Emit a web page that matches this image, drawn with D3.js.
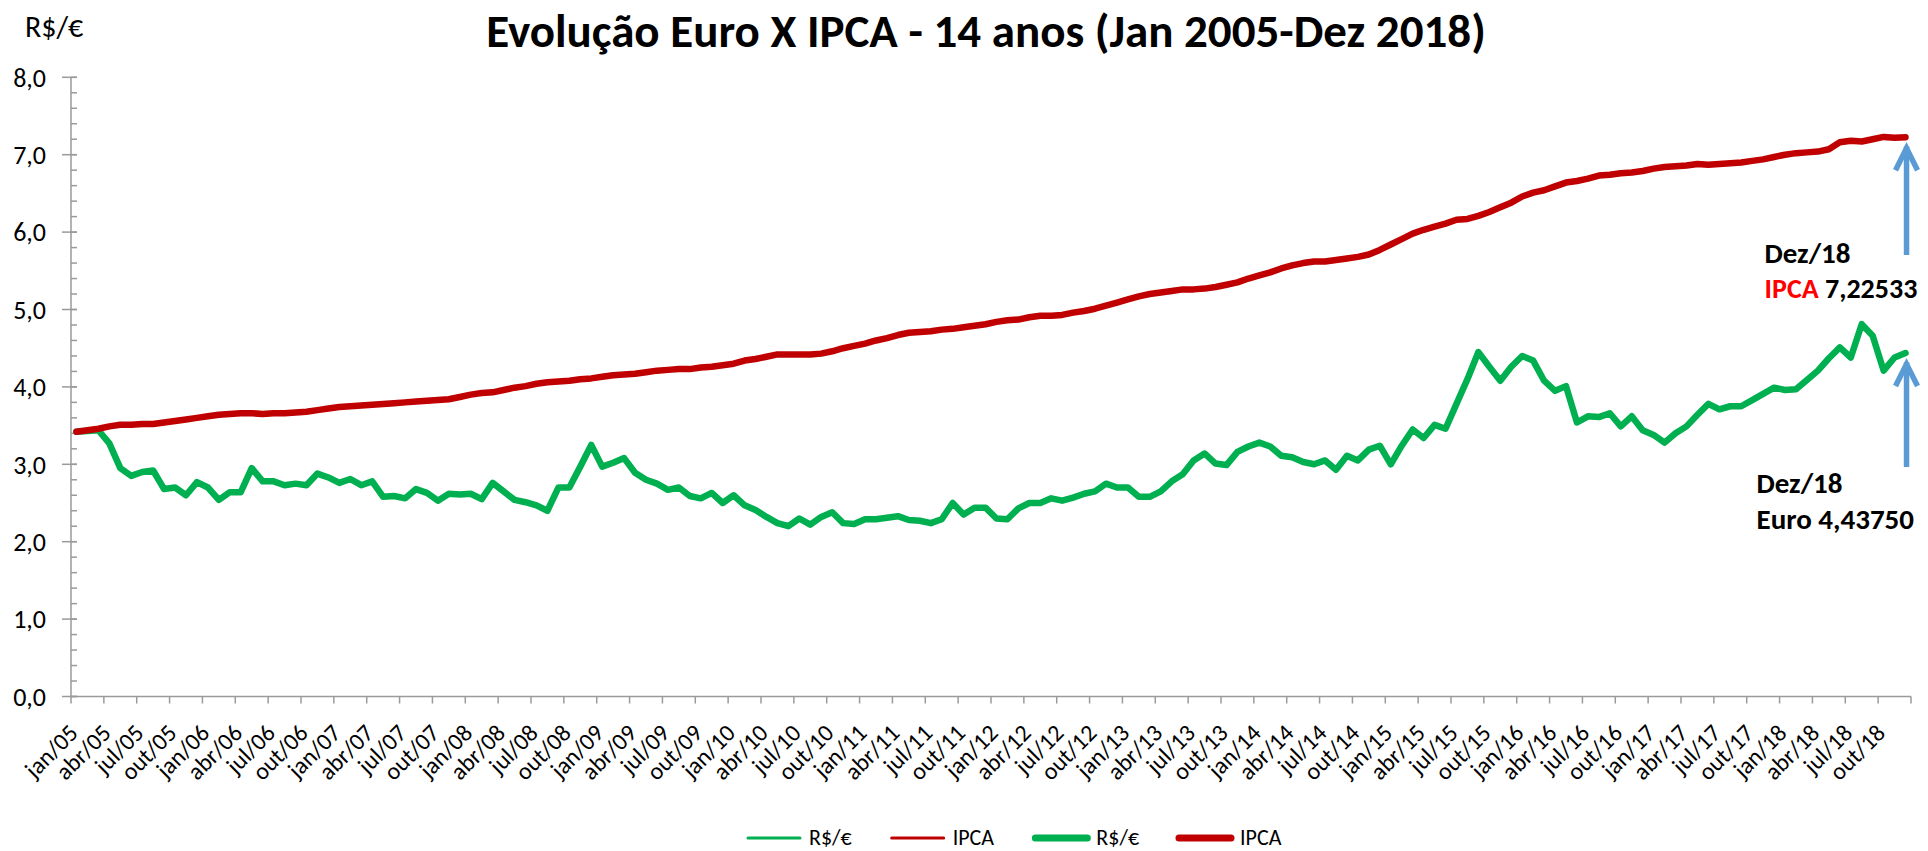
<!DOCTYPE html>
<html>
<head>
<meta charset="utf-8">
<script src="https://cdn.jsdelivr.net/npm/d3@7"></script>
<style>
  body { margin: 0; background: #fff; }
  svg { display: block; font-family: Carlito, Calibri, Lato, sans-serif; }
</style>
</head>
<body>
<svg id="chart" width="1928" height="851"></svg>
<script>
// month names and years used for the category axis
const monthNames = ['jan', 'fev', 'mar', 'abr', 'mai', 'jun', 'jul', 'ago', 'set', 'out', 'nov', 'dez'];
const yearLabels = ['05', '06', '07', '08', '09', '10', '11', '12', '13', '14', '15', '16', '17', '18'];
const categories = yearLabels.flatMap(y => monthNames.map(m => `${m}/${y}`));

// R$/€ (monthly)
const euro = [
  3.42, 3.43, 3.44, 3.27, 2.95, 2.85, 2.90, 2.92, 2.68, 2.70, 2.60, 2.77,
  2.70, 2.54, 2.64, 2.64, 2.95, 2.78, 2.78, 2.73, 2.75, 2.73, 2.88, 2.83,
  2.76, 2.81, 2.73, 2.78, 2.58, 2.59, 2.56, 2.68, 2.63, 2.53, 2.62, 2.61,
  2.62, 2.55, 2.76, 2.65, 2.54, 2.51, 2.47, 2.40, 2.70, 2.70, 2.97, 3.25,
  2.97, 3.02, 3.08, 2.89, 2.80, 2.75, 2.67, 2.70, 2.59, 2.56, 2.63, 2.50,
  2.60, 2.47, 2.41, 2.32, 2.24, 2.20, 2.30, 2.22, 2.32, 2.38, 2.24, 2.23,
  2.29, 2.29, 2.31, 2.33, 2.28, 2.27, 2.24, 2.29, 2.50, 2.35, 2.44, 2.44,
  2.30, 2.29, 2.43, 2.50, 2.50, 2.56, 2.53, 2.57, 2.62, 2.65, 2.75, 2.70,
  2.70, 2.58, 2.58, 2.65, 2.78, 2.87, 3.05, 3.14, 3.01, 2.99, 3.16, 3.23,
  3.28, 3.23, 3.11, 3.09, 3.03, 3.00, 3.05, 2.93, 3.11, 3.05, 3.19, 3.24,
  3.00, 3.24, 3.45, 3.34, 3.51, 3.46, 3.78, 4.10, 4.45, 4.26, 4.08, 4.26,
  4.40, 4.34, 4.08, 3.95, 4.01, 3.54, 3.62, 3.61, 3.66, 3.49, 3.62, 3.44,
  3.38, 3.28, 3.40, 3.49, 3.64, 3.78, 3.71, 3.75, 3.75, 3.83, 3.91, 3.99,
  3.96, 3.97, 4.09, 4.21, 4.37, 4.51, 4.38, 4.81, 4.66, 4.21, 4.38, 4.4375
];

// euro corrected by IPCA
const ipca = [
  3.42, 3.44, 3.46, 3.49, 3.51, 3.51, 3.52, 3.52, 3.54, 3.56, 3.58, 3.60,
  3.62, 3.64, 3.65, 3.66, 3.66, 3.65, 3.66, 3.66, 3.67, 3.68, 3.70, 3.72,
  3.74, 3.75, 3.76, 3.77, 3.78, 3.79, 3.80, 3.81, 3.82, 3.83, 3.84, 3.87,
  3.90, 3.92, 3.93, 3.96, 3.99, 4.01, 4.04, 4.06, 4.07, 4.08, 4.10, 4.11,
  4.13, 4.15, 4.16, 4.17, 4.19, 4.21, 4.22, 4.23, 4.23, 4.25, 4.26, 4.28,
  4.30, 4.34, 4.36, 4.39, 4.42, 4.42, 4.42, 4.42, 4.43, 4.46, 4.50, 4.53,
  4.56, 4.60, 4.63, 4.67, 4.70, 4.71, 4.72, 4.74, 4.75, 4.77, 4.79, 4.81,
  4.84, 4.86, 4.87, 4.90, 4.92, 4.92, 4.93, 4.96, 4.98, 5.01, 5.05, 5.09,
  5.13, 5.17, 5.20, 5.22, 5.24, 5.26, 5.26, 5.27, 5.29, 5.32, 5.35, 5.40,
  5.44, 5.48, 5.53, 5.57, 5.60, 5.62, 5.62, 5.64, 5.66, 5.68, 5.71, 5.77,
  5.84, 5.91, 5.98, 6.03, 6.07, 6.11, 6.16, 6.17, 6.21, 6.26, 6.32, 6.38,
  6.46, 6.51, 6.54, 6.59, 6.64, 6.66, 6.69, 6.73, 6.74, 6.76, 6.77, 6.79,
  6.82, 6.84, 6.85, 6.86, 6.88, 6.87, 6.88, 6.89, 6.90, 6.92, 6.94, 6.97,
  7.00, 7.02, 7.03, 7.04, 7.07, 7.16, 7.18, 7.17, 7.20, 7.23, 7.22, 7.22533
];

const yTicks = [0, 1, 2, 3, 4, 5, 6, 7, 8];
const legendItems = [
  { label: 'R$/€', color: '#00B050', width: 3 },
  { label: 'IPCA', color: '#C00000', width: 3 },
  { label: 'R$/€', color: '#00B050', width: 7 },
  { label: 'IPCA', color: '#C00000', width: 7 }
];

const GREEN = '#00B050';
const RED = '#C00000';
const AXIS = '#9a9a9a';
const ARROW = '#5B9BD5';

const svg = d3.select('#chart');
const margin = { left: 71, right: 17, top: 77.3, bottom: 154.5 };
const width = +svg.attr('width');
const height = +svg.attr('height');

const x = d3.scaleBand().domain(categories).range([margin.left, width - margin.right]);
const cx = d => x(d) + x.bandwidth() / 2;
const y = d3.scaleLinear().domain([0, 8]).range([height - margin.bottom, margin.top]);

// title
svg.append('text')
  .attr('x', 986).attr('y', 47)
  .attr('text-anchor', 'middle')
  .attr('font-size', 47).attr('font-weight', 'bold')
  .text('Evolução Euro X IPCA - 14 anos (Jan 2005-Dez 2018)');

svg.append('text')
  .attr('x', 25).attr('y', 37)
  .attr('font-size', 30)
  .text('R$/€');

// y axis
const yAxis = svg.append('g');
yAxis.append('line')
  .attr('x1', margin.left).attr('x2', margin.left)
  .attr('y1', y(8)).attr('y2', y(0))
  .attr('stroke', AXIS).attr('stroke-width', 1.5);

yAxis.selectAll('.minor')
  .data(d3.range(0, 8.01, 0.2))
  .join('line')
  .attr('x1', margin.left).attr('x2', margin.left + 6)
  .attr('y1', d => y(d)).attr('y2', d => y(d))
  .attr('stroke', AXIS).attr('stroke-width', 1.5);

yAxis.selectAll('.major')
  .data(yTicks)
  .join('line')
  .attr('x1', margin.left - 9).attr('x2', margin.left + 6)
  .attr('y1', d => y(d)).attr('y2', d => y(d))
  .attr('stroke', AXIS).attr('stroke-width', 1.5);

yAxis.selectAll('text')
  .data(yTicks)
  .join('text')
  .attr('x', 46).attr('y', d => y(d))
  .attr('dy', '0.36em')
  .attr('text-anchor', 'end')
  .attr('font-size', 26)
  .text(d => d3.format('.1f')(d).replace('.', ','));

// x axis
const xAxis = svg.append('g');
xAxis.append('line')
  .attr('x1', margin.left).attr('x2', width - margin.right)
  .attr('y1', y(0)).attr('y2', y(0))
  .attr('stroke', AXIS).attr('stroke-width', 1.5);

const tickCats = categories.filter((d, i) => i % 3 === 0);
const tickXs = tickCats.map(d => x(d)).concat([width - margin.right]);
xAxis.selectAll('.tick')
  .data(tickXs)
  .join('line')
  .attr('x1', d => d).attr('x2', d => d)
  .attr('y1', y(0)).attr('y2', y(0) + 7)
  .attr('stroke', AXIS).attr('stroke-width', 1.5);

xAxis.selectAll('text')
  .data(tickCats)
  .join('text')
  .attr('text-anchor', 'end')
  .attr('font-size', 24)
  .attr('transform', d => `translate(${cx(d) + 3},${y(0) + 38}) rotate(-45)`)
  .text(d => d);

// lines
const rows = categories.map((c, i) => ({ c, euro: euro[i], ipca: ipca[i] }));
const lineOf = key => d3.line().x(d => cx(d.c)).y(d => y(d[key]));

const series = [
  { key: 'euro', color: GREEN, w: 2 },
  { key: 'ipca', color: RED, w: 2 },
  { key: 'euro', color: GREEN, w: 6.5 },
  { key: 'ipca', color: RED, w: 6.5 }
];
svg.append('g').selectAll('path')
  .data(series)
  .join('path')
  .attr('d', s => lineOf(s.key)(rows))
  .attr('fill', 'none')
  .attr('stroke', s => s.color)
  .attr('stroke-width', s => s.w)
  .attr('stroke-linejoin', 'round')
  .attr('stroke-linecap', 'round');

// annotations: arrows pointing at the last value of each line
const last = categories[categories.length - 1];
const lx = cx(last);
function arrow(tipY, baseY) {
  const g = svg.append('g')
    .attr('stroke', ARROW).attr('stroke-width', 5.5)
    .attr('fill', 'none').attr('stroke-linecap', 'butt');
  g.append('line').attr('x1', lx + 1).attr('x2', lx + 1).attr('y1', baseY).attr('y2', tipY + 2);
  g.append('polyline')
    .attr('stroke-linejoin', 'miter')
    .attr('points', `${lx - 10},${tipY + 26} ${lx + 1},${tipY + 4} ${lx + 12},${tipY + 26}`);
}
arrow(y(ipca[ipca.length - 1]) + 7, 255);
arrow(y(euro[euro.length - 1]) + 7, 467);

const ann = svg.append('g').attr('font-size', 29).attr('font-weight', 'bold');
ann.append('text').attr('x', lx - 141).attr('y', 263).text('Dez/18');
const t2 = ann.append('text').attr('x', lx - 141).attr('y', 298).attr('font-size', 28);
t2.append('tspan').attr('fill', '#FF0000').text('IPCA');
t2.append('tspan').text(' ' + d3.format('.5f')(ipca[ipca.length - 1]).replace('.', ','));
ann.append('text').attr('x', lx - 149).attr('y', 493).text('Dez/18');
ann.append('text').attr('x', lx - 149).attr('y', 529)
  .text('Euro ' + d3.format('.5f')(euro[euro.length - 1]).replace('.', ','));

// legend, evenly spaced entries
const legend = svg.append('g');
const legendX = d3.scalePoint().domain(d3.range(legendItems.length)).range([748, 1179]);
legend.selectAll('line')
  .data(legendItems)
  .join('line')
  .attr('x1', (d, i) => legendX(i)).attr('x2', (d, i) => legendX(i) + 52)
  .attr('y1', 838).attr('y2', 838)
  .attr('stroke', d => d.color).attr('stroke-width', d => d.width)
  .attr('stroke-linecap', 'round');
legend.selectAll('text')
  .data(legendItems)
  .join('text')
  .attr('x', (d, i) => legendX(i) + 61).attr('y', 845)
  .attr('font-size', 22)
  .text(d => d.label);
</script>
</body>
</html>
